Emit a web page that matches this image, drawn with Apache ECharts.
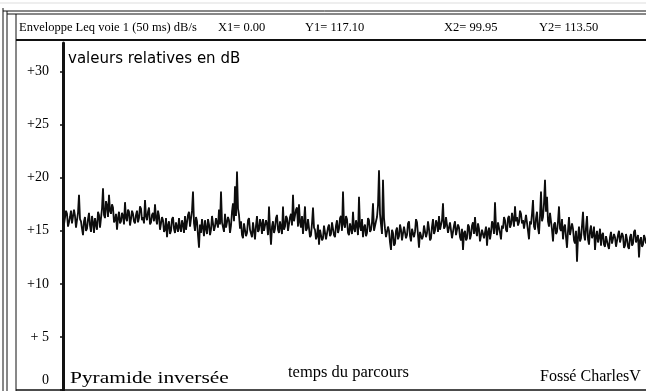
<!DOCTYPE html>
<html>
<head>
<meta charset="utf-8">
<script src="https://cdn.jsdelivr.net/npm/echarts@6/dist/echarts.min.js"></script>
<style>
  html, body { margin: 0; padding: 0; background: #fff; }
  #chart { width: 646px; height: 391px; }
</style>
</head>
<body>
<div id="chart"></div>
<script>
// Leq envelope, channel 1, 50 ms frames, relative dB, ~100 s route
const levels = [
  16.2,15.6, 15.5,16.9, 16.6,15.4, 15.8,16.3, 16.9,15.7, 15.6,17.0, 16.4,15.3, 16.0,16.7, 18.4,16.1, 15.9,15.2,
  14.6,15.9, 16.3,15.0, 15.2,16.1, 16.7,15.5, 14.9,16.4, 15.8,14.8, 16.2,15.6, 15.1,16.8, 16.5,15.3, 15.4,17.1,
  19.0,16.5, 16.2,17.8, 17.4,16.3, 18.4,16.9, 16.6,17.5, 17.2,15.8, 16.0,16.6, 15.1,16.2, 16.8,15.7, 15.9,16.7,
  16.4,15.6, 17.7,16.2, 15.9,17.0, 16.8,15.5, 16.1,16.9, 16.6,15.9, 15.7,16.5, 16.9,15.8, 16.2,17.3, 17.1,16.0,
  16.3,15.7, 17.9,16.4, 16.0,16.8, 17.2,15.6, 15.8,16.5, 16.7,15.9, 17.5,16.2, 15.6,16.9, 16.4,15.1, 15.2,16.3,
  16.0,14.9, 15.1,16.2, 14.4,15.5, 15.9,14.7, 15.0,16.1, 16.3,15.2, 14.8,15.8, 15.7,14.9, 16.2,15.3, 14.9,16.0,
  15.6,14.8, 16.4,15.1, 15.2,16.5, 16.8,15.4, 15.5,16.9, 18.7,15.7, 15.0,16.3, 15.9,14.6, 13.4,15.6, 14.8,16.1,
  15.3,14.5, 16.0,15.2, 14.7,16.1, 15.6,14.6, 15.1,16.4, 16.3,15.0, 15.4,16.2, 16.1,15.3, 17.0,15.6, 18.7,15.8,
  15.8,14.9, 16.6,15.3, 15.2,16.3, 16.0,14.8, 15.5,16.8, 17.6,15.9, 19.2,16.4, 20.6,17.1, 16.5,15.2, 15.9,14.6,
  14.3,15.7, 15.6,14.5, 14.8,16.0, 16.2,15.1, 15.0,14.4, 15.8,15.0, 14.2,15.5, 16.4,14.9, 15.1,16.1, 15.7,14.7,
  16.1,15.0, 14.9,16.0, 15.6,14.6, 17.3,15.2, 13.7,15.4, 15.9,14.8, 15.2,16.2, 16.5,15.1, 14.8,15.9, 16.0,14.7,
  17.3,15.1, 15.4,16.4, 16.2,15.0, 15.0,16.3, 16.6,15.5, 18.4,15.9, 16.0,17.0, 17.2,15.4, 17.5,15.8, 15.3,16.4,
  14.7,15.9, 17.3,15.0, 15.2,16.1, 16.0,14.4, 14.6,15.7, 17.2,15.3, 15.1,14.2, 14.5,15.6, 13.7,15.1, 15.0,14.1,
  14.3,15.5, 15.4,14.2, 14.1,15.3, 15.6,14.5, 14.7,15.8, 15.9,14.6, 14.4,15.5, 16.0,14.8, 15.2,16.2, 16.4,15.0,
  18.7,15.6, 15.3,16.4, 16.1,14.8, 14.6,15.7, 15.8,14.7, 16.8,15.2, 14.9,16.0, 15.5,14.6, 18.2,15.4, 15.0,16.1,
  14.4,15.3, 15.6,14.5, 14.8,16.2, 16.0,14.9, 15.1,15.8, 17.6,15.0, 14.9,15.9, 16.3,17.4, 20.7,16.6, 15.6,14.7,
  19.8,16.2, 15.2,14.4, 14.3,15.4, 15.0,13.9, 13.2,15.1, 14.8,13.6, 13.8,15.0, 15.3,14.2, 14.5,15.6, 15.1,14.1,
  14.2,15.4, 15.5,14.3, 14.6,15.7, 15.9,14.5, 14.0,15.2, 15.3,14.4, 14.9,16.1, 15.8,14.6, 13.4,14.9, 15.0,14.2,
  14.5,15.5, 15.6,14.4, 14.8,15.9, 15.2,14.1, 14.3,15.4, 16.1,14.7, 15.0,16.0, 15.7,14.9, 16.4,15.1, 15.2,16.0,
  17.6,15.2, 15.4,16.3, 16.2,14.8, 14.9,15.8, 15.7,14.3, 14.4,15.5, 15.9,14.6, 14.7,15.6, 15.3,14.4, 14.1,15.2,
  13.2,14.8, 15.0,14.1, 14.3,15.6, 15.4,14.2, 14.6,15.5, 15.8,14.7, 16.3,15.0, 14.5,15.7, 15.2,14.0, 13.9,15.1,
  15.1,14.3, 14.4,15.4, 13.6,14.9, 15.3,14.2, 14.8,15.9, 15.6,14.7, 17.7,15.3, 14.6,15.8, 15.9,14.8, 14.2,15.5,
  15.2,16.3, 16.0,15.1, 14.9,16.2, 16.4,15.3, 15.6,16.7, 16.1,15.4, 17.3,15.9, 16.3,15.5, 15.8,16.9, 16.6,15.7,
  16.0,15.2, 15.3,16.5, 16.4,15.0, 14.2,15.9, 15.6,16.6, 17.9,15.4, 15.1,16.2, 16.8,15.3, 14.7,16.4, 18.7,15.9,
  16.3,17.6, 19.8,16.8, 18.2,15.9, 15.4,16.7, 16.6,15.1, 14.0,15.6, 15.8,14.7, 14.9,15.9, 17.3,15.2, 15.0,16.1,
  14.2,15.3, 15.6,14.4, 13.4,15.0, 16.3,14.6, 14.5,15.7, 15.2,14.1, 13.8,15.0, 12.1,14.4, 15.4,14.0, 14.3,15.5,
  16.8,14.7, 14.1,15.3, 16.4,14.2, 13.7,15.0, 15.5,14.3, 14.6,15.4, 13.2,14.5, 15.0,13.9, 14.4,15.2, 13.6,14.6,
  14.8,13.7, 13.5,14.5, 14.6,13.6, 13.3,14.4, 14.9,13.8, 13.8,14.7, 14.4,13.5, 13.4,14.6, 15.0,13.9, 13.9,14.8,
  14.5,13.4, 13.6,14.7, 14.2,13.5, 13.3,14.4, 14.7,13.6, 13.8,14.9, 15.1,13.9, 14.0,14.6, 12.5,14.1, 14.4,13.5,
  13.7,14.6, 14.3,13.8
];

// frame index (one per plotted sample)
const frames = levels.map((_, i) => i);

// y-axis tick labels, keyed by value
const yTicks = [0, 5, 10, 15, 20, 25, 30];
const yTickLabels = ['0', '+ 5', '+10', '+15', '+20', '+25', '+30'];

// header readout
const headerTitle = 'Enveloppe Leq voie 1 (50 ms) dB/s';
const cursorX1 = 'X1= 0.00';
const cursorY1 = 'Y1= 117.10';
const cursorX2 = 'X2= 99.95';
const cursorY2 = 'Y2= 113.50';

const unitNote = 'valeurs relatives en dB';
const placeLeft = 'Pyramide inversée';
const axisNote = 'temps du parcours';
const placeRight = 'Fossé CharlesV';

const serif = '"Liberation Serif", "DejaVu Serif", serif';
const sans = '"DejaVu Sans", "Noto Sans", sans-serif';

const chart = echarts.init(document.getElementById('chart'), null, { renderer: 'canvas' });

function vline(x, y1, y2, w, c) {
  return { type: 'line', shape: { x1: x, y1: y1, x2: x, y2: y2 }, style: { stroke: c || '#111', lineWidth: w || 1 }, silent: true };
}
function hline(y, x1, x2, w, c) {
  return { type: 'line', shape: { x1: x1, y1: y, x2: x2, y2: y }, style: { stroke: c || '#111', lineWidth: w || 1 }, silent: true };
}
function txt(x, y, s, size, font, sx) {
  return {
    type: 'text', x: x, y: y, scaleX: sx || 1,
    style: { text: s, fill: '#000', font: size + 'px ' + font, textAlign: 'left', textVerticalAlign: 'middle' },
    silent: true
  };
}

chart.setOption({
  animation: false,
  backgroundColor: '#fff',
  grid: { left: 63, right: 0, top: 43, bottom: 1, containLabel: false },
  xAxis: {
    type: 'category',
    data: frames,
    boundaryGap: false,
    axisLine: { show: false },
    axisTick: { show: false },
    axisLabel: { show: false },
    splitLine: { show: false }
  },
  yAxis: {
    type: 'value',
    min: 0,
    max: 32.7,
    interval: 5,
    axisLine: { show: true, lineStyle: { color: '#111', width: 3 } },
    axisTick: { show: true, length: 3, lineStyle: { color: '#111', width: 1.5 } },
    splitLine: { show: false },
    axisLabel: {
      show: true,
      margin: 14,
      color: '#000',
      fontFamily: serif,
      fontSize: 14,
      showMaxLabel: false,
      formatter: function (v) {
        const k = yTicks.indexOf(Math.round(v));
        if (k < 0) return '';
        if (k === 0) return '{z|' + yTickLabels[k] + '}';
        return yTickLabels[k];
      },
      rich: { z: { fontFamily: serif, fontSize: 14, color: '#000', padding: [0, 0, 20, 0] } }
    }
  },
  series: [{
    type: 'line',
    data: levels,
    showSymbol: false,
    symbol: 'none',
    lineStyle: { color: '#0d0d0d', width: 1.8 },
    z: 3
  }],
  graphic: [
    hline(3, 0, 646, 1, '#ddd'),
    // outer double border
    vline(3, 8, 391, 1),
    vline(7, 11, 391, 1),
    hline(11, 3, 646, 1),
    hline(14, 7, 646, 1.2),
    // inner panel border and header separator
    vline(16, 14, 391, 1),
    hline(40, 16, 646, 2),
    hline(390, 16, 646, 1.5),
    txt(19, 28, headerTitle, 12.5, serif),
    txt(218, 28, cursorX1, 12.5, serif),
    txt(305, 28, cursorY1, 12.5, serif),
    txt(444, 28, cursorX2, 12.5, serif),
    txt(539, 28, cursorY2, 12.5, serif),
    txt(68, 59, unitNote, 15, sans),
    txt(70, 379, placeLeft, 17, serif, 1.26),
    txt(288, 373, axisNote, 16.5, serif),
    txt(540, 377, placeRight, 16, serif)
  ]
});
</script>
</body>
</html>
